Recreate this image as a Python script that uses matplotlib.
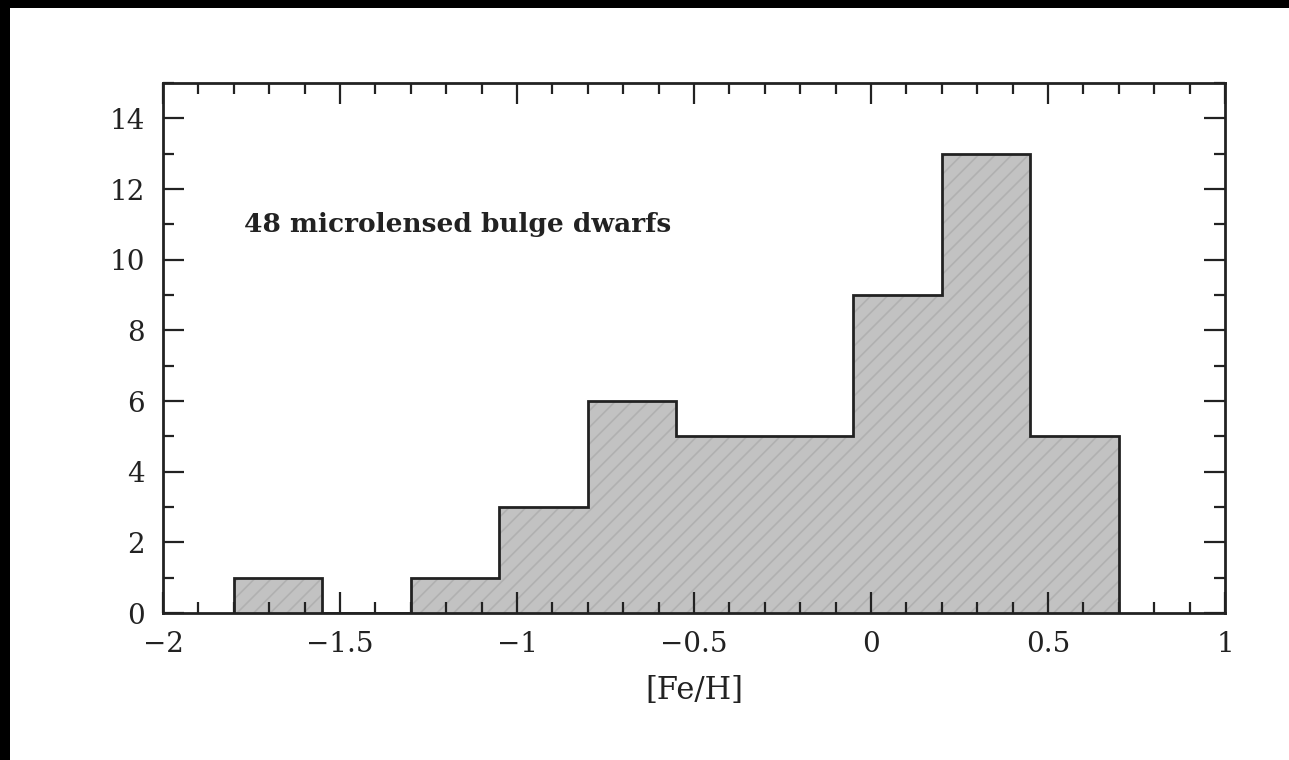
import numpy as np
import matplotlib
matplotlib.use("Agg")
import matplotlib.pyplot as plt
from matplotlib.patches import Rectangle
from matplotlib.ticker import MultipleLocator

# histogram of [Fe/H] for the bulge dwarfs
bin_edges = [-1.8, -1.55, -1.3, -1.05, -0.8, -0.55, -0.3, -0.05, 0.2, 0.45, 0.7]
counts = [1, 0, 1, 3, 6, 5, 5, 9, 13, 5]
label_text = "48 microlensed bulge dwarfs"
xlabel = "[Fe/H]"

plt.rcParams['font.family'] = ['DejaVu Serif']
plt.rcParams['hatch.linewidth'] = 1.2
plt.rcParams['hatch.color'] = '#b0b0b0'

W, H = 1289, 760
fig = plt.figure(figsize=(W / 100, H / 100), dpi=100, facecolor='black')
# white page, with the black strips at top and left of the scan
fig.patches.append(Rectangle((10 / W, 0), 1 - 10 / W, 1 - 8 / H,
                             transform=fig.transFigure, facecolor='white',
                             edgecolor='none', zorder=-10))

ax = fig.add_axes([163 / W, 1 - 613 / H, (1225 - 163) / W, (613 - 83) / H])
ax.set_facecolor('white')

ax.stairs(counts, bin_edges, fill=True, facecolor='#c2c2c2',
          edgecolor='#b0b0b0', hatch='//', linewidth=0, zorder=1)
ax.stairs(counts, bin_edges, fill=False, color='#222222', linewidth=2.0,
          baseline=0, zorder=2)

ax.set_xlim(-2, 1)
ax.set_ylim(0, 15)
ax.xaxis.set_major_locator(MultipleLocator(0.5))
ax.xaxis.set_minor_locator(MultipleLocator(0.1))
ax.yaxis.set_major_locator(MultipleLocator(2))
ax.yaxis.set_minor_locator(MultipleLocator(1))

ax.set_xticks([-2, -1.5, -1, -0.5, 0, 0.5, 1])
ax.set_xticklabels(['\u22122', '\u22121.5', '\u22121', '\u22120.5', '0', '0.5', '1'])

ax.tick_params(which='both', direction='in', top=True, right=True,
               color='#222222', width=1.6, labelsize=20, labelcolor='#222222')
ax.tick_params(which='major', length=15, pad=13)
ax.tick_params(which='minor', length=8)
for s in ax.spines.values():
    s.set_linewidth(2.0)
    s.set_color('#222222')
    s.set_zorder(3)

ax.set_xlabel(xlabel, fontsize=22, color='#222222', labelpad=12)
ax.text(-1.77, 11.0, label_text, fontsize=19, fontweight='bold',
        color='#222222', va='center', ha='left')

fig.savefig('out.png', dpi=100, facecolor=fig.get_facecolor())
